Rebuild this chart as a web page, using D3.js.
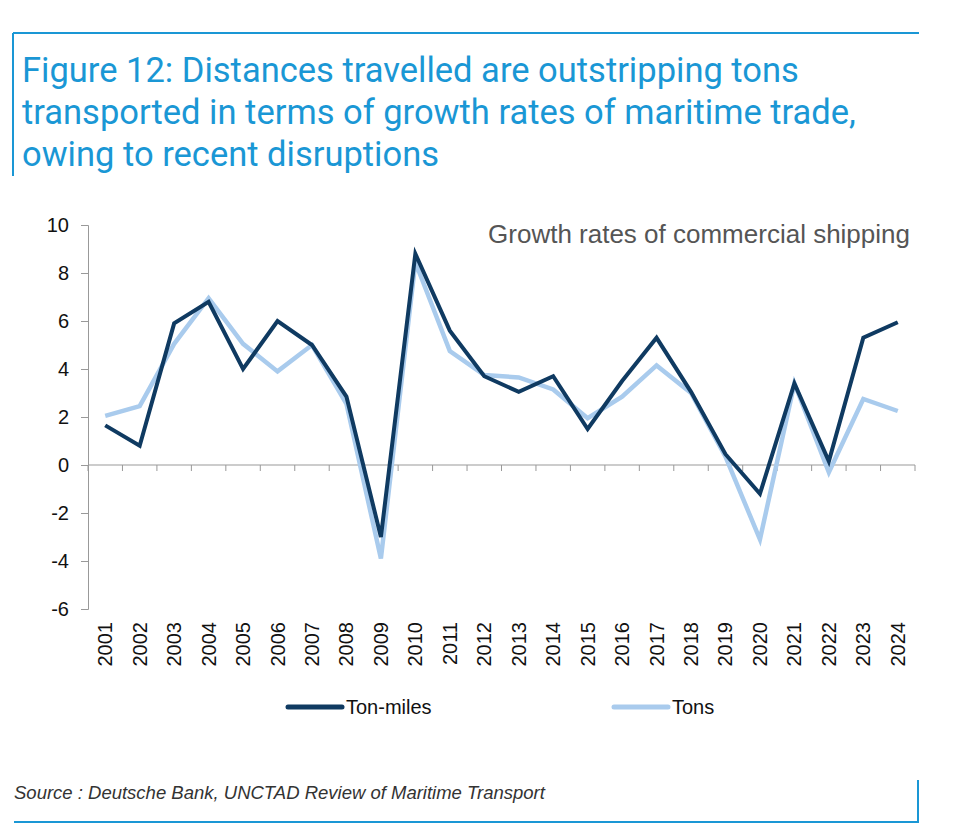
<!DOCTYPE html>
<html>
<head>
<meta charset="utf-8">
<script src="https://cdn.jsdelivr.net/npm/d3@7"></script>
<style>
  body { margin: 0; background: #fff; }
  text { font-family: "Liberation Sans", Arial, sans-serif; }
</style>
</head>
<body>
<svg id="chart"></svg>
<script>
// chart data
const years = ["2001","2002","2003","2004","2005","2006","2007","2008","2009","2010","2011","2012",
               "2013","2014","2015","2016","2017","2018","2019","2020","2021","2022","2023","2024"];
const tonMiles = [1.65, 0.8, 5.9, 6.8, 4.0, 6.0, 5.0, 2.85, -3.0, 8.8, 5.6, 3.7,
                  3.05, 3.7, 1.5, 3.5, 5.3, 3.05, 0.45, -1.2, 3.4, 0.15, 5.3, 5.95];
const tons = [2.05, 2.45, 5.05, 6.95, 5.05, 3.9, 5.0, 2.55, -3.9, 8.45, 4.75, 3.75,
              3.65, 3.15, 1.95, 2.85, 4.15, 3.0, 0.35, -3.1, 3.4, -0.3, 2.75, 2.25];
const yTicks = [10, 8, 6, 4, 2, 0, -2, -4, -6];
const seriesNames = ["Ton-miles", "Tons"];
const seriesColors = ["#0f3a61", "#a9cbed"];

const W = 956, H = 840;
const svg = d3.select("#chart").attr("width", W).attr("height", H);

const blue = "#1a97d5";

// frame lines
svg.append("line").attr("x1", 13).attr("x2", 919).attr("y1", 33).attr("y2", 33)
  .attr("stroke", blue).attr("stroke-width", 2);
svg.append("line").attr("x1", 13).attr("x2", 13).attr("y1", 33).attr("y2", 176)
  .attr("stroke", blue).attr("stroke-width", 2);
svg.append("line").attr("x1", 14).attr("x2", 919).attr("y1", 822).attr("y2", 822)
  .attr("stroke", blue).attr("stroke-width", 2);
svg.append("line").attr("x1", 918).attr("x2", 918).attr("y1", 780).attr("y2", 823)
  .attr("stroke", blue).attr("stroke-width", 2);

// title
const titleLines = ["Figure 12: Distances travelled are outstripping tons",
                    "transported in terms of growth rates of maritime trade,",
                    "owing to recent disruptions"];
svg.selectAll(".title").data(titleLines).enter().append("text")
  .attr("class", "title")
  .attr("x", 22).attr("y", (d, i) => 82 + i * 42)
  .attr("fill", blue)
  .style("font-family", "Roboto, 'Liberation Sans', sans-serif")
  .style("font-size", "34.5px")
  .text(d => d);

// source
svg.append("text").attr("x", 14).attr("y", 799)
  .attr("fill", "#333").style("font-size", "18.5px").style("font-style", "italic")
  .text("Source : Deutsche Bank, UNCTAD Review of Maritime Transport");

// scales
const x = d3.scaleBand().domain(years).range([88, 915]);
const y = d3.scaleLinear().domain([-6, 10]).range([609, 225]);

// y axis
const yAxis = svg.append("g").attr("transform", "translate(88,0)")
  .call(d3.axisLeft(y).tickValues(yTicks).tickSize(7).tickPadding(12).tickFormat(d => String(d)));
yAxis.select(".domain").attr("stroke", "#999");
yAxis.selectAll(".tick line").attr("stroke", "#999");
yAxis.selectAll("text").attr("fill", "#111").style("font-size", "20px")
  .style("font-family", "'Liberation Sans', Arial, sans-serif");

// x axis along zero
const xAxis = svg.append("g").attr("transform", "translate(0," + y(0) + ")");
xAxis.append("line").attr("x1", 88).attr("x2", 915).attr("stroke", "#999");
xAxis.selectAll(".xt").data(years.concat(["end"])).enter().append("line")
  .attr("x1", (d, i) => i < years.length ? x(d) : x.range()[1])
  .attr("x2", (d, i) => i < years.length ? x(d) : x.range()[1])
  .attr("y1", 0).attr("y2", 6).attr("stroke", "#999");

// x labels at the bottom, rotated
svg.selectAll(".xl").data(years).enter().append("text")
  .attr("transform", d => "translate(" + (x(d) + x.bandwidth() / 2 + 7) + ",622) rotate(-90)")
  .attr("text-anchor", "end")
  .attr("fill", "#111").style("font-size", "20px")
  .text(d => d);

// lines
const line = d3.line()
  .x((d, i) => x(years[i]) + x.bandwidth() / 2)
  .y(d => y(d));

svg.append("path").datum(tons)
  .attr("fill", "none").attr("stroke", seriesColors[1]).attr("stroke-width", 4.5)
  .attr("d", line);
svg.append("path").datum(tonMiles)
  .attr("fill", "none").attr("stroke", seriesColors[0]).attr("stroke-width", 4)
  .attr("d", line);

// subtitle
svg.append("text").attr("x", 910).attr("y", 243).attr("text-anchor", "end")
  .attr("fill", "#555").style("font-size", "26px")
  .style("font-family", "'Liberation Sans', Arial, sans-serif")
  .text("Growth rates of commercial shipping");

// legend
const legendX = [288, 614];
const lg = svg.selectAll(".lg").data(seriesNames).enter().append("g")
  .attr("transform", (d, i) => "translate(" + legendX[i] + ",707)");
lg.append("line").attr("x1", 0).attr("x2", 54)
  .attr("stroke", (d, i) => seriesColors[i]).attr("stroke-width", 5).attr("stroke-linecap", "round");
lg.append("text").attr("x", 58).attr("y", 7)
  .attr("fill", "#111").style("font-size", "20px")
  .text(d => d);
</script>
</body>
</html>
